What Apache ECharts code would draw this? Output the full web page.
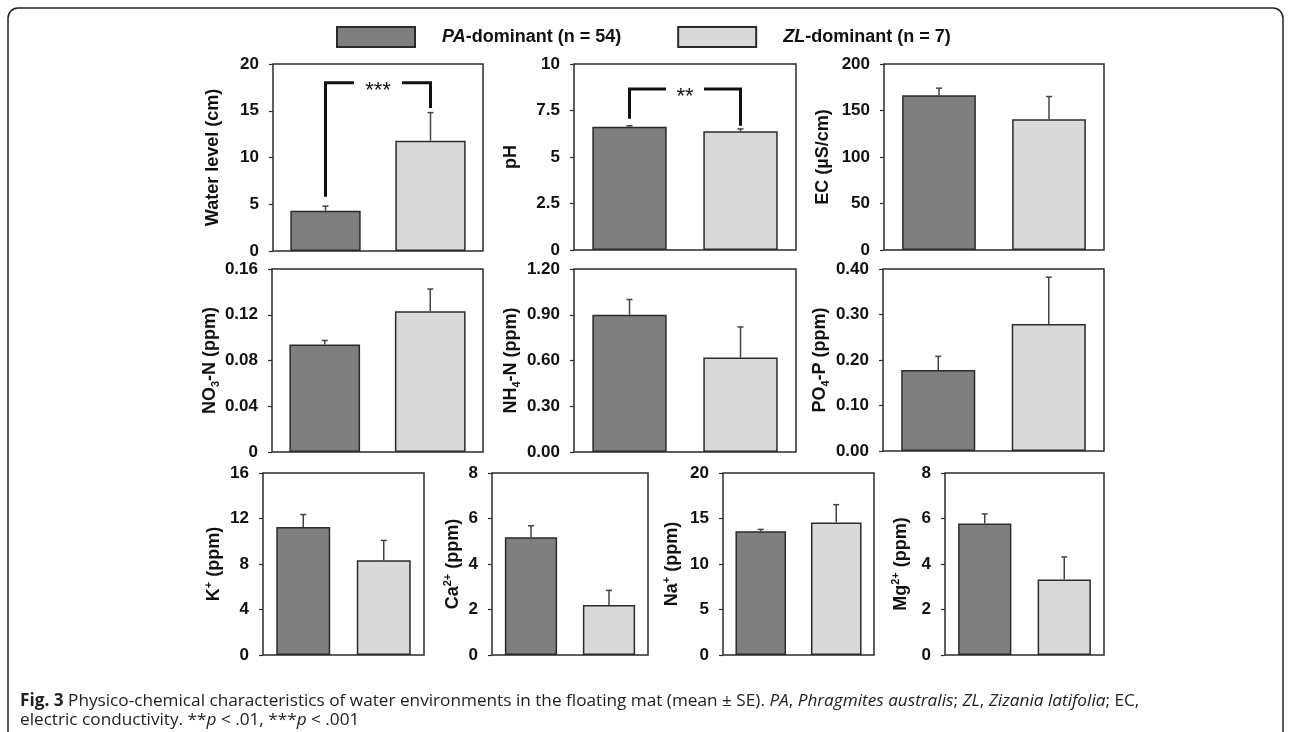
<!DOCTYPE html>
<html><head><meta charset="utf-8">
<script src="https://cdn.jsdelivr.net/npm/echarts/dist/echarts.min.js"></script>
<style>html,body{margin:0;padding:0;background:#fff}#c{width:1290px;height:732px}</style>
</head><body><div id="c"></div>
<script>
// ---------------- data ----------------
const groups = ['PA-dominant (n = 54)', 'ZL-dominant (n = 7)'];
const axisTitles = ['Water level (cm)', 'pH', 'EC (µS/cm)', 'NO{sub|3}-N (ppm)', 'NH{sub|4}-N (ppm)',
  'PO{sub|4}-P (ppm)', 'K{sup|+} (ppm)', 'Ca{sup|2+} (ppm)', 'Na{sup|+} (ppm)', 'Mg{sup|2+} (ppm)'];
const paMean = [4.3, 6.63, 166.5, 0.094, 0.90, 0.178, 11.25, 5.18, 13.6, 5.78];
const paSE   = [0.5, 0.05, 7.5, 0.0035, 0.10, 0.03, 1.1, 0.5, 0.2, 0.42];
const zlMean = [11.8, 6.38, 140.5, 0.123, 0.62, 0.279, 8.32, 2.2, 14.55, 3.32];
const zlSE   = [3.0, 0.13, 24.5, 0.0195, 0.20, 0.103, 1.75, 0.64, 1.97, 0.99];
const tickLabels = [
  ['0', '5', '10', '15', '20'],
  ['0', '2.5', '5', '7.5', '10'],
  ['0', '50', '100', '150', '200'],
  ['0', '0.04', '0.08', '0.12', '0.16'],
  ['0.00', '0.30', '0.60', '0.90', '1.20'],
  ['0.00', '0.10', '0.20', '0.30', '0.40'],
  ['0', '4', '8', '12', '16'],
  ['0', '2', '4', '6', '8'],
  ['0', '5', '10', '15', '20'],
  ['0', '2', '4', '6', '8']
];
const axisMax  = [20, 10, 200, 0.16, 1.2, 0.4, 16, 8, 20, 8];
const axisStep = [5, 2.5, 50, 0.04, 0.3, 0.1, 4, 2, 5, 2];
// significance brackets: panel, label, left start, top, right end (axis values)
const sigPanel = [0, 1];
const sigLabel = ['***', '**'];
const sigLeftStart = [5.8, 7.05];
const sigTop = [18.0, 8.65];
const sigRightEnd = [15.3, 6.68];

// ---------------- layout / style ----------------
const layout = [
  {l: 273, t: 64, w: 210, h: 187, gap: 49},
  {l: 574, t: 64, w: 222, h: 186, gap: 52},
  {l: 884, t: 64, w: 220, h: 186, gap: 50},
  {l: 272, t: 269, w: 211, h: 183, gap: 51},
  {l: 574, t: 269, w: 222, h: 183, gap: 52},
  {l: 883, t: 269, w: 221, h: 182, gap: 52},
  {l: 263, t: 473, w: 161, h: 182, gap: 38},
  {l: 492, t: 473, w: 156, h: 182, gap: 28},
  {l: 723, t: 473, w: 151, h: 182, gap: 40},
  {l: 945, t: 473, w: 159, h: 182, gap: 33}
];
const FONT = 'Liberation Sans, Arial, sans-serif';
const DARK = '#7f7f7f', LIGHT = '#d9d9d9', EDGE = '#2b2b2b';

const grids = [], xAxes = [], yAxes = [], series = [];
layout.forEach((g, i) => {
  grids.push({left: g.l, top: g.t, width: g.w, height: g.h, show: true, borderColor: EDGE, borderWidth: 1.5,
    backgroundColor: 'transparent', containLabel: false, outerBoundsMode: 'none'});
  xAxes.push({type: 'category', gridIndex: i, data: ['PA', 'ZL'], axisLine: {show: false},
    axisTick: {show: false}, axisLabel: {show: false}, splitLine: {show: false}});
  yAxes.push({type: 'value', gridIndex: i, min: 0, max: axisMax[i], interval: axisStep[i],
    axisLine: {show: false}, splitLine: {show: false},
    axisTick: {show: true, inside: false, length: 4, lineStyle: {color: EDGE, width: 1.2}},
    axisLabel: {margin: 14, fontFamily: FONT, fontWeight: 'bold', fontSize: 17, color: '#111',
      formatter: v => tickLabels[i][Math.round(v / axisStep[i])]},
    name: axisTitles[i], nameLocation: 'middle', nameRotate: 90, nameGap: g.gap,
    nameTextStyle: {fontFamily: FONT, fontWeight: 'bold', fontSize: 18, color: '#111', lineHeight: 22,
      rich: {
        sub: {fontFamily: FONT, fontWeight: 'bold', fontSize: 11, color: '#111', verticalAlign: 'bottom', lineHeight: 12},
        sup: {fontFamily: FONT, fontWeight: 'bold', fontSize: 11, color: '#111', verticalAlign: 'top', lineHeight: 12}
      }}
  });
  series.push({type: 'bar', name: groups[0], xAxisIndex: i, yAxisIndex: i, data: [paMean[i], '-'],
    barWidth: '67%', barGap: '-100%', itemStyle: {color: DARK, borderColor: EDGE, borderWidth: 1.5}});
  series.push({type: 'bar', name: groups[1], xAxisIndex: i, yAxisIndex: i, data: ['-', zlMean[i]],
    barWidth: '67%', barGap: '-100%', itemStyle: {color: LIGHT, borderColor: EDGE, borderWidth: 1.5}});
  series.push({type: 'custom', name: 'err' + i, xAxisIndex: i, yAxisIndex: i, z: 5,
    data: [[0, paMean[i], paSE[i]], [1, zlMean[i], zlSE[i]]],
    encode: {x: 0, y: 1},
    renderItem: (params, api) => {
      const x = api.value(0), m = api.value(1), se = api.value(2);
      const p0 = api.coord([x, m]), p1 = api.coord([x, m + se]);
      return {type: 'group', children: [
        {type: 'line', shape: {x1: p0[0], y1: p0[1], x2: p1[0], y2: p1[1]}, style: {stroke: '#444', lineWidth: 1.5}},
        {type: 'line', shape: {x1: p1[0] - 3, y1: p1[1], x2: p1[0] + 3, y2: p1[1]}, style: {stroke: '#444', lineWidth: 1.5}}
      ]};
    }});
});

sigPanel.forEach((p, k) => {
  series.push({type: 'custom', name: 'sig' + k, xAxisIndex: p, yAxisIndex: p, z: 6,
    data: [[0, sigLeftStart[k], sigTop[k], sigRightEnd[k]]],
    encode: {x: 0, y: 2},
    renderItem: (params, api) => {
      const a = api.coord([0, api.value(1)]), b = api.coord([0, api.value(2)]);
      const c = api.coord([1, api.value(2)]), d = api.coord([1, api.value(3)]);
      const mid = (a[0] + c[0]) / 2, half = 9 + 5 * sigLabel[k].length;
      const st = {stroke: '#111', lineWidth: 3, fill: null};
      return {type: 'group', children: [
        {type: 'polyline', shape: {points: [[a[0], a[1]], [b[0], b[1]], [mid - half, b[1]]]}, style: st},
        {type: 'polyline', shape: {points: [[mid + half, c[1]], [c[0], c[1]], [d[0], d[1]]]}, style: st},
        {type: 'text', style: {text: sigLabel[k], x: mid, y: b[1] - 3, align: 'center', verticalAlign: 'top',
          font: '22px ' + FONT, fill: '#111'}}
      ]};
    }});
});

const chart = echarts.init(document.getElementById('c'), null, {renderer: 'canvas'});
chart.setOption({
  animation: false,
  backgroundColor: '#fff',
  grid: grids, xAxis: xAxes, yAxis: yAxes, series: series,
  legend: {
    data: groups, left: 336, top: 26, padding: 0, icon: 'rect', itemWidth: 78, itemHeight: 20, itemGap: 56,
    selectedMode: false,
    formatter: n => n.replace(/^(PA|ZL)/, '{i|$1}'),
    textStyle: {fontFamily: FONT, fontWeight: 'bold', fontSize: 18, color: '#111', padding: [0, 0, 0, 22],
      rich: {i: {fontFamily: FONT, fontWeight: 'bold', fontStyle: 'italic', fontSize: 18, color: '#111'}}}
  },
  graphic: [
    {type: 'rect', silent: true, shape: {x: 8, y: 8, width: 1275, height: 740, r: 10},
      style: {fill: 'none', stroke: '#222', lineWidth: 1.5}},
    {type: 'text', silent: true, left: 20, top: 692, style: {
      text: '{b|Fig. 3} Physico-chemical characteristics of water environments in the floating mat (mean ± SE). {i|PA}, {i|Phragmites australis}; {i|ZL}, {i|Zizania latifolia}; EC,\nelectric conductivity. **{i|p} < .01, ***{i|p} < .001',
      font: '17.2px "Open Sans", sans-serif', fill: '#222', lineHeight: 19,
      rich: {
        b: {fontFamily: 'Open Sans', fontWeight: 'bold', fontSize: 17.2, fill: '#222', lineHeight: 19},
        i: {fontFamily: 'Open Sans', fontStyle: 'italic', fontSize: 17.2, fill: '#222', lineHeight: 19}
      }}}
  ]
});
</script></body></html>
